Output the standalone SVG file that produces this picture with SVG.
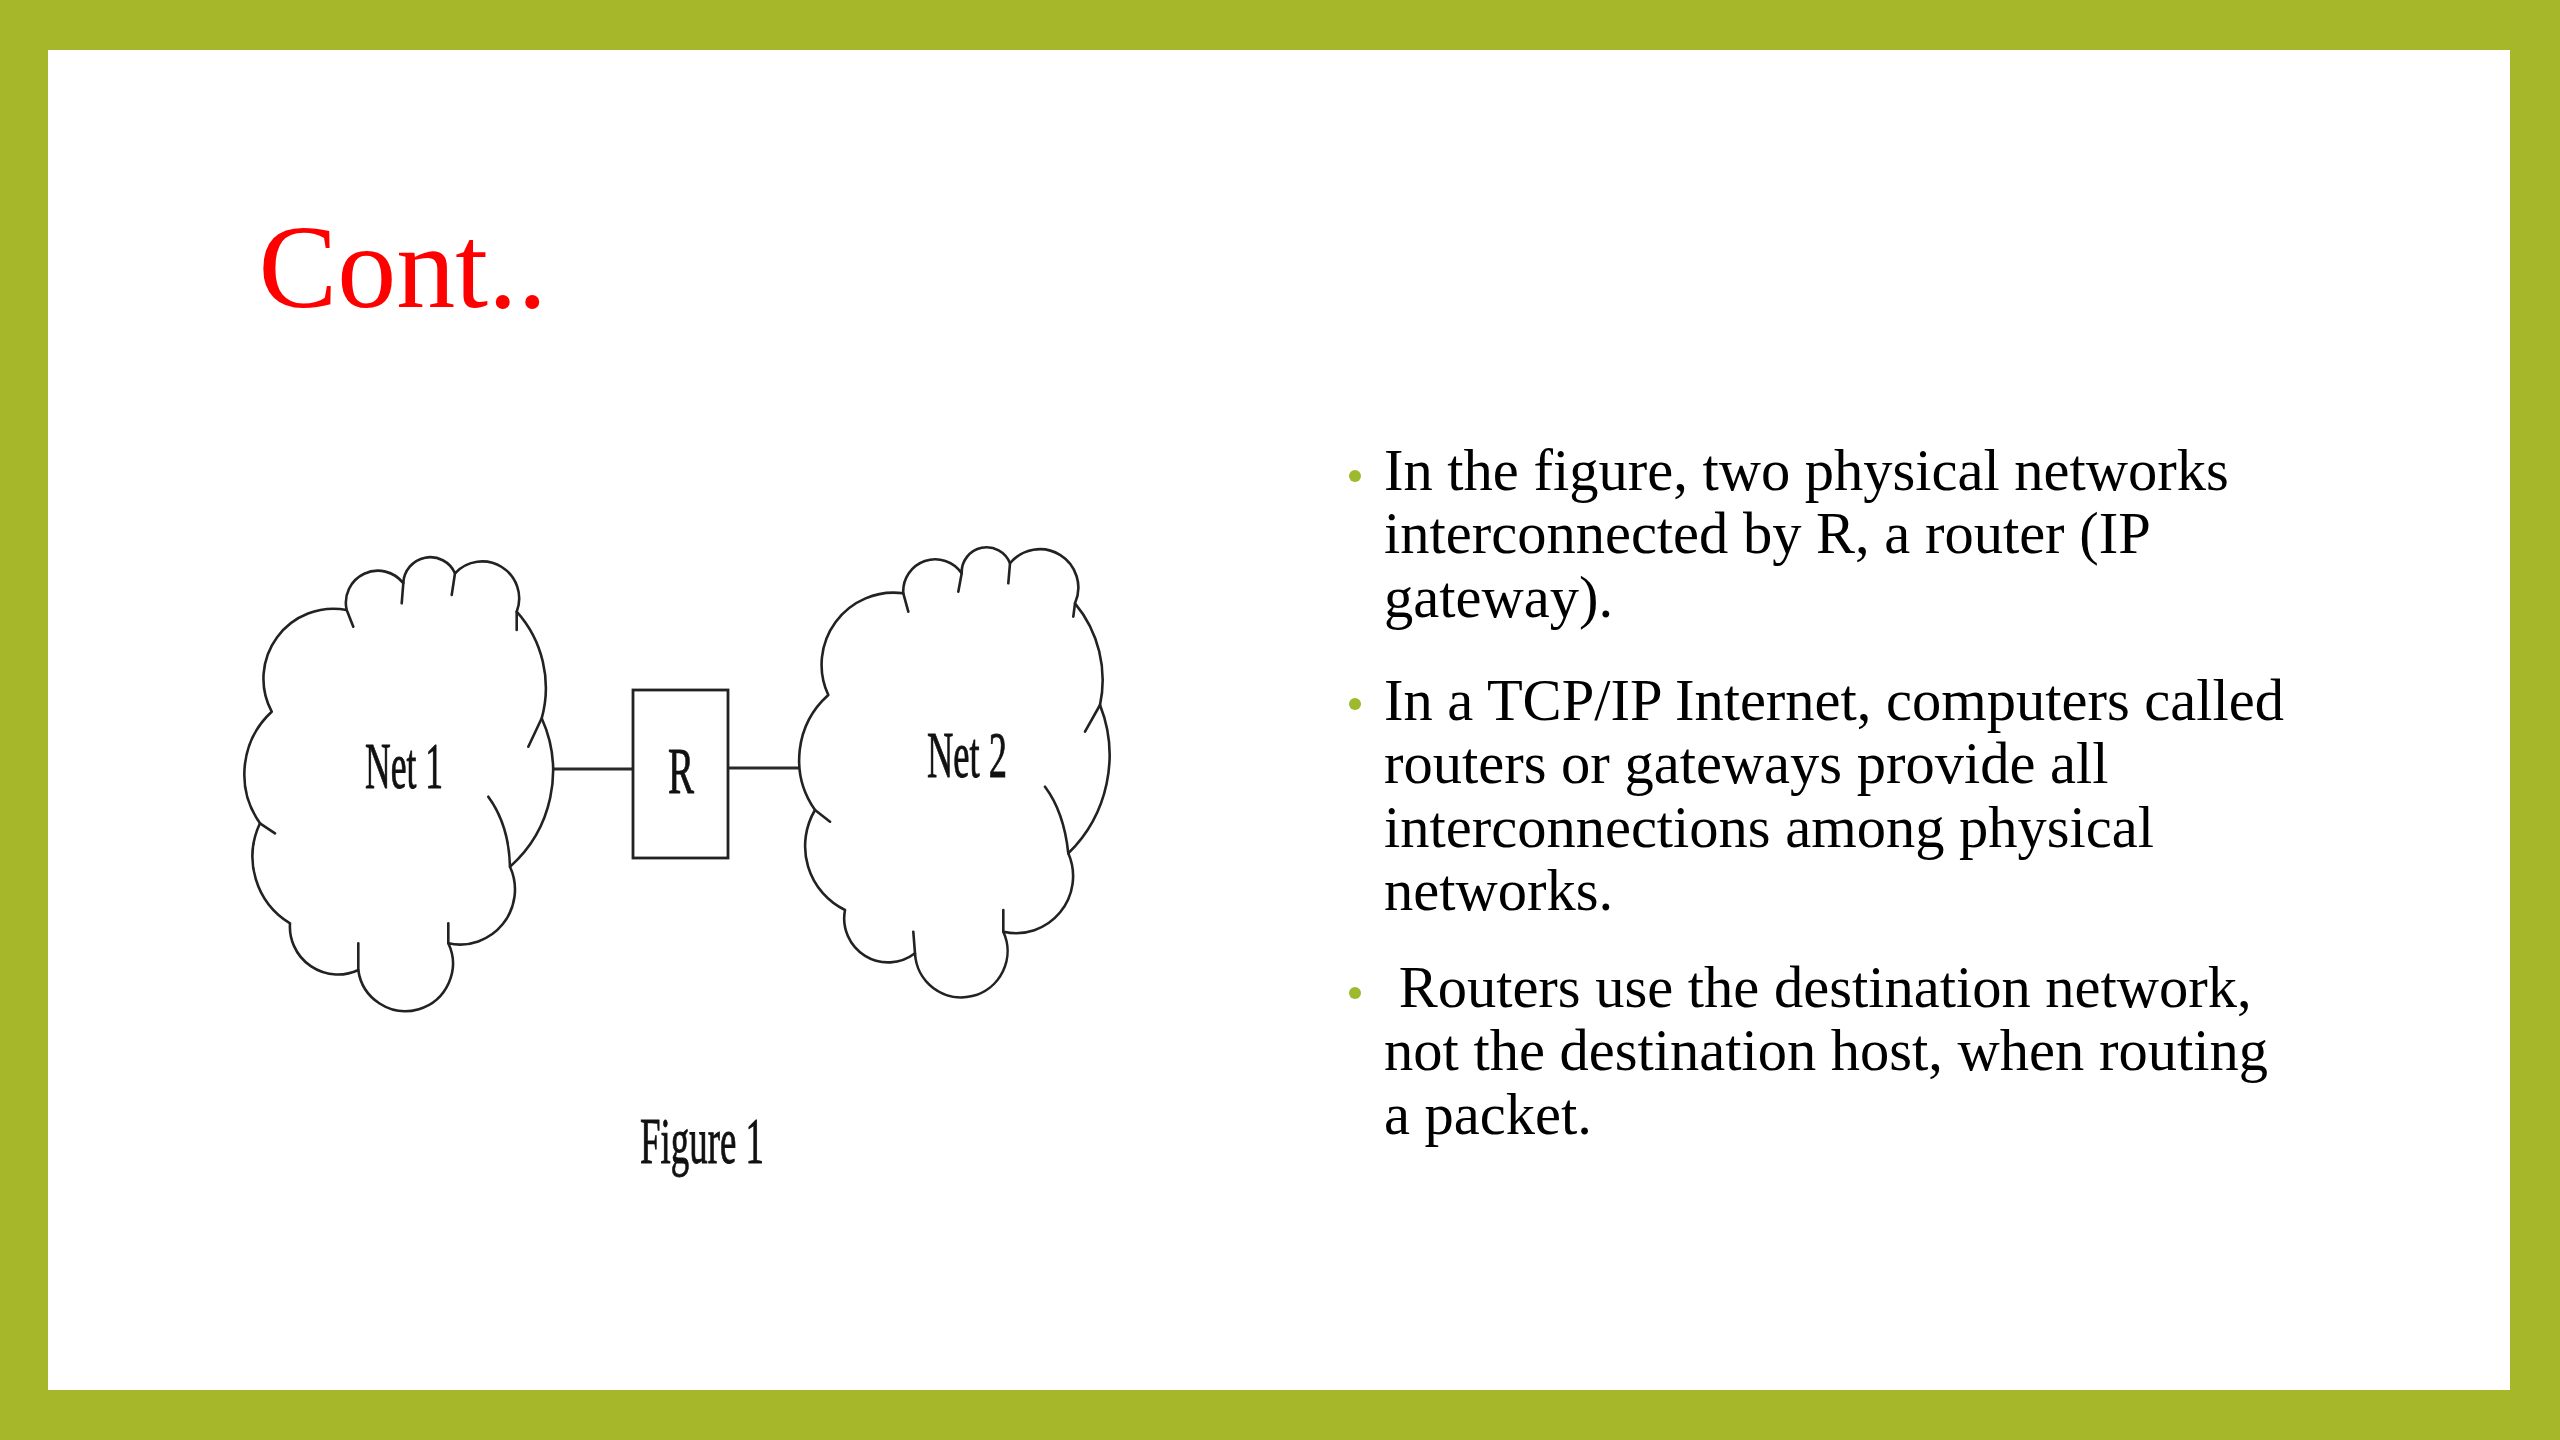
<svg xmlns="http://www.w3.org/2000/svg" width="2560" height="1440" viewBox="0 0 2560 1440">
<style>
.cloud{fill:#ffffff;stroke:#222222;stroke-width:2.6;stroke-linejoin:round}
.tail{fill:none;stroke:#222222;stroke-width:2.6;stroke-linecap:round}
.conn{stroke:#2a2a2a;stroke-width:3.2;fill:none}
.box{fill:#ffffff;stroke:#222222;stroke-width:2.8}
.lbl{font-family:"Liberation Serif","Times New Roman",serif;font-size:66px;fill:#111111;stroke:#111111;stroke-width:0.9}
.body{font-family:"Liberation Serif","Times New Roman",serif;font-size:58.5px;fill:#000000}
.dot{fill:#9DBA2E}
</style>
<rect x="0" y="0" width="2560" height="1440" fill="#A7B72A"/>
<rect x="48" y="50" width="2462" height="1340" fill="#ffffff"/>

<g id="title">
<text x="258.5" y="307" font-family="'Liberation Serif','Times New Roman',serif" font-size="118" fill="#FF0000">Cont..</text>
</g>

<g id="connectors">
<line class="conn" x1="549" y1="769" x2="633" y2="769"/>
<line class="conn" x1="728" y1="768" x2="801" y2="768"/>
</g>

<g id="node-net1">
<path class="cloud" d="M271.7 711.7 A70 70 0 0 1 346.7 610 A32 32 0 0 1 403.3 583.3 A27 27 0 0 1 455 573.3 A37 37 0 0 1 516.7 611.7 A114 114 0 0 1 541.7 718.3 A128 128 0 0 1 510 866.7 A55 55 0 0 1 448.3 943.3 A47.5 47.5 0 1 1 358.3 970 A48 48 0 0 1 290 923.3 A78 78 0 0 1 260 823.3 A85 85 0 0 1 271.7 711.7 Z"/>
<path class="tail" d="M346.7 610 L353.3 626.7 M403.3 583.3 L401.7 603.3 M455 573.3 L451.7 595 M516.7 611.7 L516.7 630 M541.7 718.3 L528.3 746.7 M488.3 796.7 Q509 825 510 866.7 M448.3 943.3 L448.3 923.3 M358.3 970 L358.3 943.3 M260 823.3 L275 833.3"/>
<text class="lbl" x="365" y="788" textLength="78" lengthAdjust="spacingAndGlyphs">Net 1</text>
</g>

<g id="node-router">
<rect class="box" x="633" y="690" width="95" height="168"/>
<text class="lbl" x="668" y="793" textLength="26" lengthAdjust="spacingAndGlyphs">R</text>
</g>

<g id="node-net2">
<path class="cloud" d="M828.3 695 A72 72 0 0 1 903.3 593.3 A32 32 0 0 1 961.7 573.3 A25 25 0 0 1 1010 563.3 A38.5 38.5 0 0 1 1075 603.3 A120 120 0 0 1 1100 705 A137 137 0 0 1 1068.3 853.3 A57 57 0 0 1 1003.3 931.7 A46.3 46.3 0 1 1 915 953.3 A44 44 0 0 1 845 910 A71 71 0 0 1 815 810 A87 87 0 0 1 828.3 695 Z"/>
<path class="tail" d="M903.3 593.3 L908.3 611.7 M961.7 573.3 L958.3 591.7 M1010 563.3 L1008.3 583.3 M1075 603.3 L1073.3 616.7 M1100 705 L1085 731.7 M1045 786.7 Q1064 812 1068.3 853.3 M1003.3 931.7 L1003.3 910 M915 953.3 L913.3 931.7 M815 810 L830 821.7"/>
<text class="lbl" x="927" y="777" textLength="80" lengthAdjust="spacingAndGlyphs">Net 2</text>
</g>

<g id="caption">
<text class="lbl" x="640" y="1163" textLength="124" lengthAdjust="spacingAndGlyphs">Figure 1</text>
</g>

<g id="bullets">
<circle class="dot" cx="1355" cy="476" r="6"/>
<text class="body" x="1384" y="490">In the figure, two physical networks</text>
<text class="body" x="1384" y="553.3">interconnected by R, a router (IP</text>
<text class="body" x="1384" y="616.6">gateway).</text>
<circle class="dot" cx="1355" cy="704" r="6"/>
<text class="body" x="1384" y="720">In a TCP/IP Internet, computers called</text>
<text class="body" x="1384" y="783.3">routers or gateways provide all</text>
<text class="body" x="1384" y="846.6">interconnections among physical</text>
<text class="body" x="1384" y="910">networks.</text>
<circle class="dot" cx="1355" cy="993" r="6"/>
<text class="body" x="1384" y="1007" xml:space="preserve"> Routers use the destination network,</text>
<text class="body" x="1384" y="1070.3">not the destination host, when routing</text>
<text class="body" x="1384" y="1133.6">a packet.</text>
</g>
</svg>
